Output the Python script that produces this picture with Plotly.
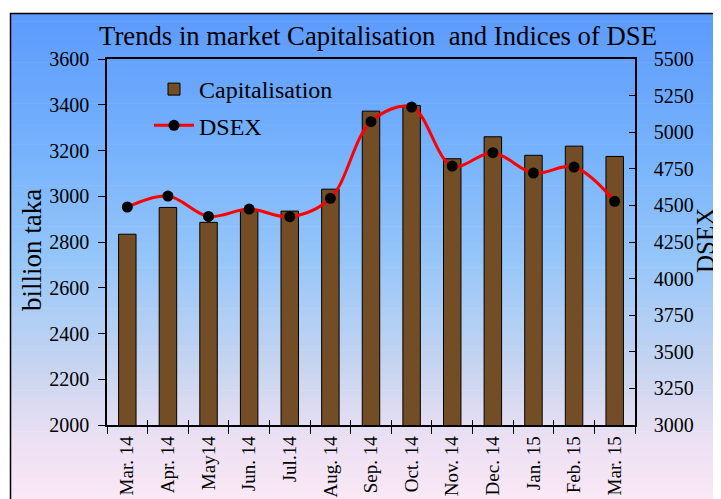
import plotly.graph_objects as go

months = ["Mar. 14", "Apr. 14", "May14", "Jun. 14", "Jul.14", "Aug. 14", "Sep. 14",
          "Oct. 14", "Nov. 14", "Dec. 14", "Jan. 15", "Feb. 15", "Mar. 15"]
capitalisation = [2834, 2951, 2886, 2937, 2935, 3031, 3372, 3397, 3164, 3260, 3179, 3219, 3174]
dsex = [4489, 4564, 4425, 4475, 4423, 4548, 5072, 5172, 4769, 4860, 4721, 4762, 4528]
left_ticks = [2000, 2200, 2400, 2600, 2800, 3000, 3200, 3400, 3600]
right_ticks = [3000, 3250, 3500, 3750, 4000, 4250, 4500, 4750, 5000, 5250, 5500]

OFF = 8  # page body margin
W, H = 721 - OFF, 499 - OFF
L, R, T, B = 107 - OFF, 635 - OFF, 59 - OFF, 425 - OFF
FONT = "Liberation Serif"

def px_x(p):  # page pixel -> paper x
    return (p - OFF - L) / (R - L)

def px_y(p):  # page pixel -> paper y
    return (B - (p - OFF)) / (B - T)

# gradient stops (page pixel y, rgb)
stops = [(13, (92, 154, 253)), (150, (118, 178, 252)), (260, (150, 198, 249)),
         (370, (200, 213, 240)), (440, (236, 224, 243)), (505, (251, 233, 246))]

def col_at(p):
    for (p0, c0), (p1, c1) in zip(stops[:-1], stops[1:]):
        if p0 <= p <= p1:
            t = (p - p0) / (p1 - p0)
            return tuple(round(a + (b - a) * t) for a, b in zip(c0, c1))
    return stops[-1][1]

shapes = []
n = 120
y0p, y1p = 13, 505
step = (y1p - y0p) / n
for i in range(n):
    a = y0p + i * step
    b = a + step + 0.6
    c = col_at(a + step / 2)
    shapes.append(dict(type="rect", xref="paper", yref="paper", layer="below",
                       x0=px_x(10), x1=px_x(730), y0=px_y(b), y1=px_y(a),
                       line=dict(width=0), fillcolor="rgb(%d,%d,%d)" % c))
shapes.append(dict(type="rect", xref="paper", yref="paper", layer="below",
                   x0=px_x(10.5), x1=px_x(730), y0=px_y(510), y1=px_y(13.5),
                   line=dict(width=1.5, color="black"), fillcolor="rgba(0,0,0,0)"))

fig = go.Figure()
fig.add_trace(go.Bar(x=months, y=capitalisation, name="Capitalisation",
                     marker=dict(color="#734d26", line=dict(color="black", width=1)),
                     xaxis="x", yaxis="y", legendgroup="a"))
fig.add_trace(go.Scatter(x=months, y=dsex, name="DSEX", mode="lines+markers",
                         line=dict(color="#ff0000", width=3, shape="spline", smoothing=1),
                         marker=dict(color="black", size=11),
                         xaxis="x2", yaxis="y2", legendgroup="b"))

annotations = [
    dict(text="billion taka", textangle=-90, xref="paper", yref="paper",
         x=px_x(32), y=px_y(250), xanchor="center", yanchor="middle",
         showarrow=False, font=dict(family=FONT, size=27, color="black")),
    dict(text="DSEX", textangle=-90, xref="paper", yref="paper",
         x=px_x(705), y=px_y(241), xanchor="center", yanchor="middle",
         showarrow=False, font=dict(family=FONT, size=25, color="black")),
]

fig.update_layout(
    width=W, height=H,
    margin=dict(l=L, r=W - R, t=T, b=H - B, pad=0, autoexpand=False),
    paper_bgcolor="white", plot_bgcolor="rgba(0,0,0,0)",
    font=dict(family=FONT, size=20, color="black"),
    title=dict(text="Trends in market Capitalisation\u00a0 and Indices of DSE",
               x=(378 - OFF) / W, xanchor="center",
               y=1 - (36 - OFF) / H, yanchor="middle", automargin=False,
               font=dict(family=FONT, size=26.7, color="black")),
    bargap=0.57,
    showlegend=True,
    legend=dict(x=px_x(149), y=px_y(67), xanchor="left", yanchor="top",
                bgcolor="rgba(0,0,0,0)", font=dict(family=FONT, size=24),
                tracegroupgap=2, itemwidth=40),
    xaxis=dict(type="category", categoryorder="array", categoryarray=months,
               range=[-0.5, len(months) - 0.5], automargin=False,
               showline=True, linecolor="black", linewidth=1.5, mirror=True,
               ticks="outside", ticklen=7, tickcolor="black", tickwidth=1,
               tickson="boundaries", tickangle=-90, showgrid=False,
               ticklabelstandoff=2,
               tickfont=dict(family=FONT, size=19)),
    xaxis2=dict(type="category", categoryorder="array", categoryarray=months,
                range=[-0.5, len(months) - 0.5], overlaying="x", anchor="y2",
                automargin=False,
                side="bottom", showline=False, ticks="inside", ticklen=5,
                tickcolor="black", tickwidth=1, tickson="boundaries",
                showticklabels=False, showgrid=False),
    yaxis=dict(range=[2000, 3600], tickvals=left_ticks, showgrid=False, zeroline=False,
               automargin=False,
               showline=True, linecolor="black", linewidth=1.5,
               ticks="outside", ticklen=7, tickcolor="black",
               ticklabelstandoff=5,
               tickfont=dict(family=FONT, size=20)),
    yaxis2=dict(range=[3000, 5500], tickvals=right_ticks, overlaying="y", side="right",
                anchor="x2", showgrid=False, zeroline=False, automargin=False,
                showline=True, linecolor="black", linewidth=1.5,
                ticks="inside", ticklen=6, tickcolor="black",
                ticklabelstandoff=13,
                tickfont=dict(family=FONT, size=20)),
    shapes=shapes,
    annotations=annotations,
)

fig.write_html("out.html")
